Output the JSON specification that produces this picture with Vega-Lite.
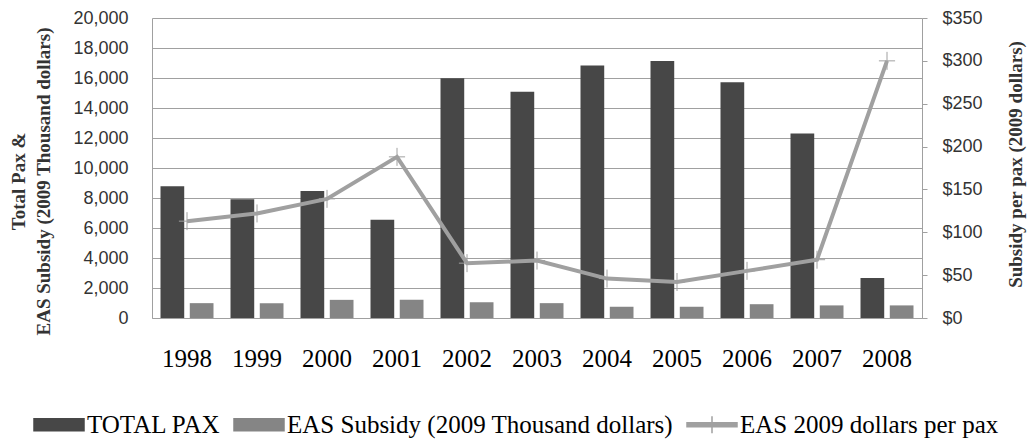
{
  "$schema": "https://vega.github.io/schema/vega-lite/v6.json",
  "width": 770,
  "height": 300,
  "autosize": {"type": "none"},
  "padding": {"left": 152, "top": 18, "right": 109, "bottom": 123},
  "background": "white",
  "config": {"view": {"stroke": null}},
  "data": {"values": [
    {"year": "1998", "series": "TOTAL PAX", "value": 8780},
    {"year": "1999", "series": "TOTAL PAX", "value": 7920},
    {"year": "2000", "series": "TOTAL PAX", "value": 8470},
    {"year": "2001", "series": "TOTAL PAX", "value": 6550},
    {"year": "2002", "series": "TOTAL PAX", "value": 15990},
    {"year": "2003", "series": "TOTAL PAX", "value": 15090},
    {"year": "2004", "series": "TOTAL PAX", "value": 16830},
    {"year": "2005", "series": "TOTAL PAX", "value": 17140},
    {"year": "2006", "series": "TOTAL PAX", "value": 15710},
    {"year": "2007", "series": "TOTAL PAX", "value": 12300},
    {"year": "2008", "series": "TOTAL PAX", "value": 2660},
    {"year": "1998", "series": "EAS Subsidy (2009 Thousand dollars)", "value": 990},
    {"year": "1999", "series": "EAS Subsidy (2009 Thousand dollars)", "value": 990},
    {"year": "2000", "series": "EAS Subsidy (2009 Thousand dollars)", "value": 1210},
    {"year": "2001", "series": "EAS Subsidy (2009 Thousand dollars)", "value": 1210},
    {"year": "2002", "series": "EAS Subsidy (2009 Thousand dollars)", "value": 1050},
    {"year": "2003", "series": "EAS Subsidy (2009 Thousand dollars)", "value": 990},
    {"year": "2004", "series": "EAS Subsidy (2009 Thousand dollars)", "value": 750},
    {"year": "2005", "series": "EAS Subsidy (2009 Thousand dollars)", "value": 750},
    {"year": "2006", "series": "EAS Subsidy (2009 Thousand dollars)", "value": 920},
    {"year": "2007", "series": "EAS Subsidy (2009 Thousand dollars)", "value": 840},
    {"year": "2008", "series": "EAS Subsidy (2009 Thousand dollars)", "value": 840},
    {"year": "1998", "series": "EAS 2009 dollars per pax", "value": 113},
    {"year": "1999", "series": "EAS 2009 dollars per pax", "value": 122},
    {"year": "2000", "series": "EAS 2009 dollars per pax", "value": 139},
    {"year": "2001", "series": "EAS 2009 dollars per pax", "value": 188},
    {"year": "2002", "series": "EAS 2009 dollars per pax", "value": 64},
    {"year": "2003", "series": "EAS 2009 dollars per pax", "value": 67},
    {"year": "2004", "series": "EAS 2009 dollars per pax", "value": 46},
    {"year": "2005", "series": "EAS 2009 dollars per pax", "value": 42},
    {"year": "2006", "series": "EAS 2009 dollars per pax", "value": 55},
    {"year": "2007", "series": "EAS 2009 dollars per pax", "value": 68},
    {"year": "2008", "series": "EAS 2009 dollars per pax", "value": 300}
  ]},
  "encoding": {
    "x": {
      "field": "year", "type": "ordinal",
      "scale": {"paddingInner": 0.243, "paddingOuter": 0.1215},
      "axis": {"title": null, "labelAngle": 0, "labelFont": "Liberation Serif", "labelFontSize": 25, "labelColor": "#000", "ticks": false, "labelPadding": 28, "domainColor": "#A0A0A0", "grid": false}
    }
  },
  "layer": [
    {
      "transform": [{"filter": {"field": "series", "oneOf": ["TOTAL PAX", "EAS Subsidy (2009 Thousand dollars)"]}}],
      "mark": {"type": "bar"},
      "encoding": {
        "xOffset": {"field": "series", "type": "nominal", "scale": {"domain": ["TOTAL PAX", "EAS Subsidy (2009 Thousand dollars)"], "paddingInner": 0.19, "paddingOuter": 0}},
        "y": {
          "field": "value", "type": "quantitative",
          "scale": {"domain": [0, 20000], "nice": false},
          "axis": {
            "values": [0, 2000, 4000, 6000, 8000, 10000, 12000, 14000, 16000, 18000, 20000],
            "format": ",.0f", "grid": true, "gridColor": "#A0A0A0", "gridWidth": 1, "gridOpacity": 1,
            "ticks": false, "tickSize": 0,
            "labelPadding": 24, "labelFont": "Liberation Sans", "labelFontSize": 18, "labelColor": "#333",
            "domainColor": "#A0A0A0",
            "title": ["Total Pax &", "EAS Subsidy (2009 Thousand dollars)"],
            "titleFont": "Liberation Serif", "titleFontSize": 19, "titleFontWeight": "bold", "titleColor": "#333",
            "titleAngle": 270, "titleX": -134, "titleY": 163, "titleBaseline": "middle", "titleAlign": "center", "titleLineHeight": 25
          }
        },
        "color": {
          "field": "series", "type": "nominal",
          "scale": {"domain": ["TOTAL PAX", "EAS Subsidy (2009 Thousand dollars)", "EAS 2009 dollars per pax"], "range": ["#474747", "#858585", "#A0A0A0"]}
        }
      }
    },
    {
      "transform": [{"filter": {"field": "series", "equal": "EAS 2009 dollars per pax"}}],
      "encoding": {
        "y": {
          "field": "value", "type": "quantitative",
          "scale": {"domain": [0, 350], "nice": false},
          "axis": {
            "orient": "right", "values": [0, 50, 100, 150, 200, 250, 300, 350], "format": "$d", "grid": false,
            "tickSize": 5, "tickColor": "#A0A0A0", "domainColor": "#A0A0A0", "labelPadding": 15,
            "labelFont": "Liberation Sans", "labelFontSize": 18, "labelColor": "#333",
            "title": "Subsidy per pax (2009 dollars)",
            "titleFont": "Liberation Serif", "titleFontSize": 19, "titleFontWeight": "bold", "titleColor": "#333",
            "titleAngle": 270, "titleX": 93, "titleY": 146, "titleBaseline": "middle", "titleAlign": "center"
          }
        }
      },
      "layer": [
        {
          "mark": {"type": "line", "strokeWidth": 4},
          "encoding": {"color": {"field": "series", "type": "nominal"}}
        },
        {
          "mark": {"type": "point", "shape": "M-0.9,0H0.9M0,-1V1", "size": 324, "filled": false, "stroke": "#A0A0A0", "strokeWidth": 1, "opacity": 1}
        },
        {
          "mark": {"type": "point", "opacity": 0},
          "encoding": {
            "color": {
              "field": "series", "type": "nominal",
              "legend": {
                "title": null, "orient": "none", "legendX": -119, "legendY": 393, "direction": "horizontal",
                "symbolSize": 625, "labelOffset": 27, "columnPadding": 10, "padding": 0,
                "labelFont": "Liberation Serif", "labelFontSize": 25, "labelColor": "#000", "labelLimit": 600,
                "encode": {"symbols": {"update": {"fill": {"scale": "color", "field": "value"}, "stroke": {"scale": "color", "field": "value"}, "strokeWidth": {"value": 1}, "opacity": {"value": 1}, "size": {"value": 625}}}}
              }
            },
            "shape": {
              "field": "series", "type": "nominal",
              "scale": {
                "domain": ["TOTAL PAX", "EAS Subsidy (2009 Thousand dollars)", "EAS 2009 dollars per pax"],
                "range": ["M-1,-0.48H3V0.48H-1Z", "M-1,-0.48H3V0.48H-1Z", "M-1,-0.16H3V0.16H-1Z M1,-0.68V0.68"]
              },
              "legend": {
                "title": null, "orient": "none", "legendX": -119, "legendY": 393, "direction": "horizontal",
                "symbolSize": 625, "labelOffset": 27, "columnPadding": 10, "padding": 0,
                "labelFont": "Liberation Serif", "labelFontSize": 25, "labelColor": "#000", "labelLimit": 600,
                "encode": {"symbols": {"update": {"fill": {"scale": "color", "field": "value"}, "stroke": {"scale": "color", "field": "value"}, "strokeWidth": {"value": 1}, "opacity": {"value": 1}, "size": {"value": 625}}}}
              }
            }
          }
        }
      ]
    }
  ],
  "resolve": {"scale": {"y": "independent"}}
}
